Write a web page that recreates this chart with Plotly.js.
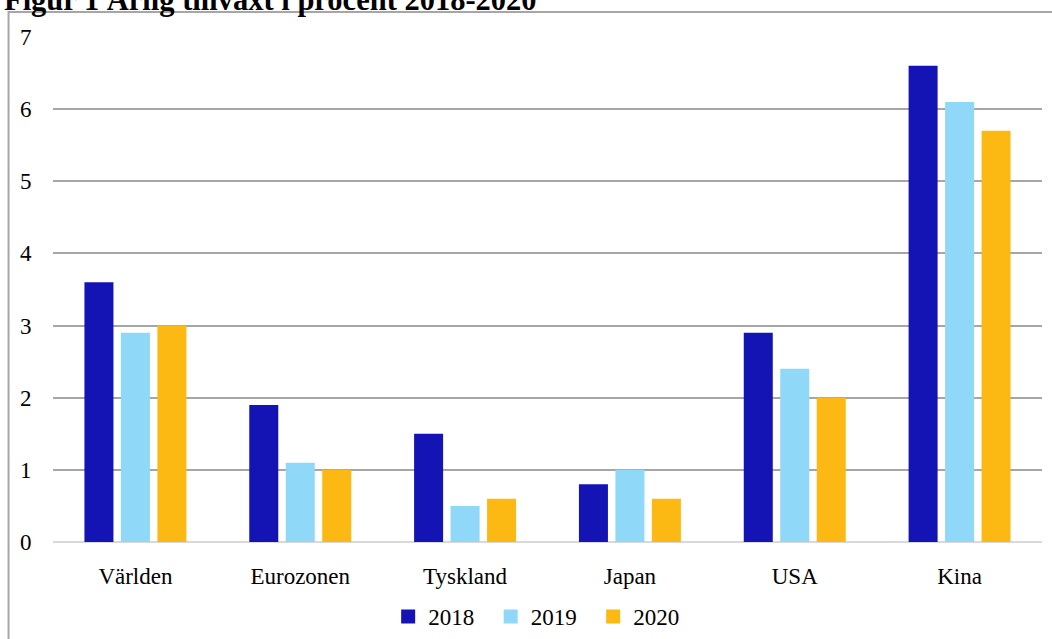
<!DOCTYPE html>
<html>
<head>
<meta charset="utf-8">
<script src="https://cdn.plot.ly/plotly-3.0.1.min.js"></script>
<style>html,body{margin:0;padding:0;background:#fff;}#chart{width:1052px;height:639px;}</style>
</head>
<body>
<div id="chart"></div>
<script>
const categories = ["Världen", "Eurozonen", "Tyskland", "Japan", "USA", "Kina"];
const seriesNames = ["2018", "2019", "2020"];
const values2018 = [3.6, 1.9, 1.5, 0.8, 2.9, 6.6];
const values2019 = [2.9, 1.1, 0.5, 1.0, 2.4, 6.1];
const values2020 = [3.0, 1.0, 0.6, 0.6, 2.0, 5.7];
const yTicks = [0, 1, 2, 3, 4, 5, 6, 7];
const colors = ["#1414B4", "#8FD8F7", "#FDB913"];
const allValues = [values2018, values2019, values2020];

const font = "'Liberation Serif', 'Times New Roman', serif";
const barTraces = allValues.map((v, i) => ({
  type: "bar", x: categories, y: v, name: seriesNames[i], showlegend: false,
  marker: {color: colors[i], line: {width: 0}}, hoverinfo: "skip"
}));
const legendTraces = seriesNames.map((n, i) => ({
  type: "scatter", mode: "markers", x: [null], y: [null], name: n, showlegend: true,
  marker: {symbol: "square", size: 14, color: colors[i], line: {width: 0}}, hoverinfo: "skip"
}));

const W = 1052, H = 639, L = 52.5, R = 9.5, T = 37, B = 97;
const pw = W - L - R, ph = H - T - B;
const px = x => (x - L) / pw;
const py = y => 1 - (y - T) / ph;

const layout = {
  width: W, height: H,
  margin: {l: L, r: R, t: T, b: B, pad: 0, autoexpand: false},
  paper_bgcolor: "#fff", plot_bgcolor: "#fff",
  font: {family: font, size: 23, color: "#000"},
  barmode: "group", bargap: 0.336, bargroupgap: 0.205,
  showlegend: true,
  legend: {orientation: "h", x: px(388), xanchor: "left", y: py(595), yanchor: "top",
           font: {family: font, size: 23, color: "#000"}, itemwidth: 30, tracegroupgap: 0,
           entrywidth: 57.5, entrywidthmode: "pixels", itemsizing: "trace",
           bgcolor: "rgba(0,0,0,0)"},
  xaxis: {type: "category", showgrid: false, zeroline: false, showline: false,
          ticks: "outside", ticklen: 13, tickcolor: "rgba(0,0,0,0)", automargin: false,
          tickfont: {family: font, size: 23, color: "#000"}, fixedrange: true},
  yaxis: {range: [0, 7], tickvals: yTicks, ticktext: yTicks.map(String), automargin: false,
          showgrid: true, gridcolor: "#A6A6A6", gridwidth: 2,
          zeroline: true, zerolinecolor: "#D9D9D9", zerolinewidth: 2,
          showline: false, ticks: "outside", ticklen: 16, tickcolor: "rgba(0,0,0,0)",
          tickfont: {family: font, size: 23, color: "#000"}, fixedrange: true},
  shapes: [{type: "rect", xref: "paper", yref: "paper",
            x0: px(8), x1: px(1060), y0: py(660), y1: py(12),
            line: {color: "#A6A6A6", width: 2}, fillcolor: "rgba(0,0,0,0)", layer: "below"}],
  annotations: [{text: "<b>Figur 1 Årlig tillväxt i procent 2018-2020</b>", xref: "paper", yref: "paper",
                 x: px(1), xanchor: "left", y: py(19), yanchor: "bottom", showarrow: false,
                 font: {family: font, size: 30.5, color: "#000"}}]
};

Plotly.newPlot("chart", barTraces.concat(legendTraces), layout, {displayModeBar: false, staticPlot: true});
</script>
</body>
</html>
